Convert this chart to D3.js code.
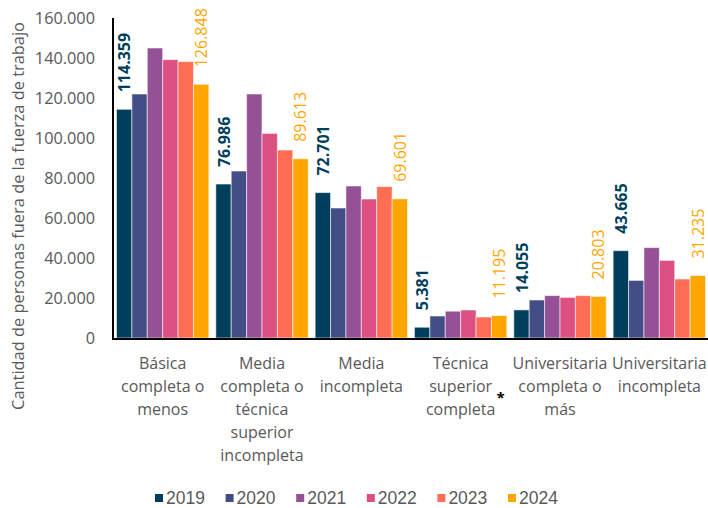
<!DOCTYPE html>
<html><head><meta charset="utf-8">
<script src="https://cdn.jsdelivr.net/npm/d3@7"></script>
<style>body{margin:0;background:#fff;}svg{display:block;font-family:"Open Sans",sans-serif;}</style>
</head><body><svg id="c" width="708" height="508"></svg>
<script>
const categories = ["Básica\ncompleta o\nmenos","Media\ncompleta o\ntécnica\nsuperior\nincompleta","Media\nincompleta","Técnica\nsuperior\ncompleta","Universitaria\ncompleta o\nmás","Universitaria\nincompleta"];
const years = ["2019","2020","2021","2022","2023","2024"];
const v2019 = [114359, 76986, 72701, 5381, 14055, 43665];
const v2020 = [122000, 83500, 65000, 11000, 19000, 28800];
const v2021 = [145000, 122000, 76000, 13400, 21200, 45200];
const v2022 = [139200, 102300, 69500, 14000, 20300, 38800];
const v2023 = [138200, 94000, 75700, 10500, 21200, 29500];
const v2024 = [126848, 89613, 69601, 11195, 20803, 31235];
const yTicks = [0,20000,40000,60000,80000,100000,120000,140000,160000];
const colors = ["#003f5c","#444e86","#955196","#dd5182","#ff6e54","#ffa600"];
const series = [v2019,v2020,v2021,v2022,v2023,v2024];

const svg = d3.select("#c");
const mLeft = 113, mRight = 709, mTop = 18, mBottom = 338;
const x0 = d3.scaleBand().domain(categories).range([mLeft,mRight]).paddingInner(0.07).paddingOuter(0.035);
const x1 = d3.scaleBand().domain(years).range([0,x0.bandwidth()]);
const y = d3.scaleLinear().domain([0,160000]).range([mBottom,mTop]);
const fmt = v => d3.format(",")(v).replace(/,/g,".");

// bars
categories.forEach((c,i)=>{
  const g = svg.append("g").attr("transform",`translate(${x0(c)},0)`);
  years.forEach((yr,j)=>{
    g.append("rect").attr("x",x1(yr)).attr("width",x1.bandwidth())
     .attr("y",y(series[j][i])).attr("height",y(0)-y(series[j][i]))
     .attr("fill",colors[j]).attr("stroke","rgba(255,255,255,0.55)").attr("stroke-width",1);
  });
  [[0,"bold"],[5,"normal"]].forEach(([j,w])=>{
    const cx = x0(c)+x1(years[j])+x1.bandwidth()/2;
    const ty = y(series[j][i]) - 17;
    svg.append("text").attr("transform",`translate(${cx},${ty}) rotate(-90)`)
      .attr("dominant-baseline","central").attr("text-anchor","start")
      .attr("font-size",16).attr("font-weight",w).attr("fill",colors[j])
      .text(fmt(series[j][i]));
  });
});

// y axis
const ya = svg.append("g").attr("transform",`translate(${mLeft},0)`)
  .call(d3.axisLeft(y).tickValues(yTicks).tickSize(0).tickPadding(18).tickFormat(fmt));
ya.select(".domain").remove();
ya.selectAll("text").attr("font-size",16.3).attr("fill","#595959").attr("font-family","Open Sans, sans-serif");
svg.append("line").attr("x1",mLeft).attr("x2",mLeft).attr("y1",mTop).attr("y2",mBottom+1).attr("stroke","#000").attr("stroke-width",2);
svg.append("line").attr("x1",mLeft-1).attr("x2",mRight).attr("y1",mBottom+1).attr("y2",mBottom+1).attr("stroke","#000").attr("stroke-width",2);

// category labels
categories.forEach((c,i)=>{
  const cx = x0(c)+x0.bandwidth()/2;
  const t = svg.append("text").attr("text-anchor","middle").attr("font-size",16).attr("fill","#595959");
  c.split("\n").forEach((line,k)=>{
    t.append("tspan").attr("x",cx).attr("y",369+k*23).text(line);
  });
  if(i===3){
    svg.append("text").attr("x",cx+40).attr("y",403).attr("font-size",15).attr("font-weight","bold").attr("fill","#000").attr("text-anchor","middle").text("*");
  }
});

// y title
svg.append("text").attr("transform",`translate(17,216) rotate(-90)`).attr("text-anchor","middle")
  .attr("dominant-baseline","central").attr("font-size",16.4).attr("fill","#595959")
  .text("Cantidad de personas fuera de la fuerza de trabajo");

// legend
const lx = d3.scalePoint().domain(years).range([155,508]);
years.forEach((yr,j)=>{
  svg.append("rect").attr("x",lx(yr)).attr("y",494).attr("width",8).attr("height",8).attr("fill",colors[j]);
  svg.append("text").attr("x",lx(yr)+11).attr("y",504)
    .attr("font-family","'Liberation Sans', Arial, sans-serif")
    .attr("font-size",17.5).attr("fill","#595959").text(yr);
});
</script></body></html>
